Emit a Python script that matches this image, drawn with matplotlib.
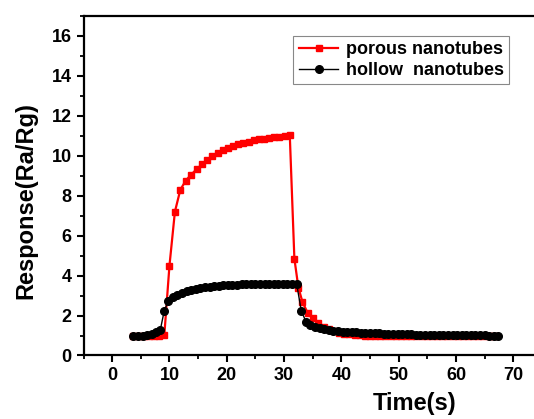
import matplotlib
matplotlib.use('Agg')
import matplotlib.pyplot as plt
from matplotlib.ticker import MultipleLocator

plt.rcParams['font.family'] = ['Liberation Sans', 'DejaVu Sans']
plt.rcParams['font.weight'] = 'bold'

# porous nanotubes
t_porous = [3.7, 4.6, 5.5, 6.4, 7.3, 8.2, 9.1,
            10.0, 10.95, 11.9, 12.85, 13.8, 14.75, 15.7, 16.6, 17.5, 18.4,
            19.3, 20.2, 21.1, 22.0, 22.9, 23.8, 24.7, 25.6, 26.5, 27.4,
            28.3, 29.2, 30.1, 31.0,
            31.8, 32.5, 33.2, 34.1, 35.0, 36.0, 36.9, 37.8, 38.7, 39.6,
            40.5, 41.4, 42.3, 43.2, 44.1, 45.0, 45.9, 46.8, 47.7, 48.6,
            49.5, 50.4, 51.3, 52.2, 53.1, 54.0, 54.9, 55.8, 56.7, 57.6,
            58.5, 59.4, 60.3, 61.2, 62.1, 63.0, 63.9, 64.8, 65.7, 66.6]
r_porous = [1.0, 1.0, 1.0, 0.98, 0.98, 1.0, 1.02,
            4.5, 7.2, 8.3, 8.76, 9.06, 9.33, 9.57, 9.78, 9.97, 10.13,
            10.27, 10.38, 10.48, 10.57, 10.64, 10.71, 10.77, 10.82, 10.86, 10.9,
            10.93, 10.96, 10.99, 11.02,
            4.85, 3.4, 2.69, 2.14, 1.86, 1.64, 1.45, 1.32, 1.22, 1.15,
            1.1, 1.06, 1.03, 1.01, 1.0, 0.99, 0.98, 0.98, 0.98, 0.97,
            0.97, 0.97, 0.97, 0.97, 0.97, 0.97, 0.97, 0.97, 0.97, 0.97,
            0.97, 0.97, 0.97, 0.97, 0.97, 0.97, 0.97, 0.97, 0.97, 0.97]

# hollow nanotubes
t_hollow = [3.7, 4.5, 5.3, 6.1, 6.9, 7.7, 8.4, 9.1, 9.8, 10.6,
            11.4, 12.2, 13.0, 13.8, 14.6, 15.4, 16.2, 17.0, 17.8, 18.6,
            19.4, 20.2, 21.0, 21.8, 22.6, 23.4, 24.2, 25.0, 25.8, 26.6,
            27.4, 28.2, 29.0, 29.8, 30.6, 31.4, 32.2, 33.0, 33.8, 34.6,
            35.4, 36.2, 37.0, 37.8, 38.6, 39.4, 40.2, 41.0, 41.8, 42.6,
            43.4, 44.2, 45.0, 45.8, 46.6, 47.4, 48.2, 49.0, 49.8, 50.6,
            51.4, 52.2, 53.0, 53.8, 54.6, 55.4, 56.2, 57.0, 57.8, 58.6,
            59.4, 60.2, 61.0, 61.8, 62.6, 63.4, 64.2, 65.0, 65.8, 66.6, 67.4]
r_hollow = [1.0, 1.0, 1.0, 1.02, 1.1, 1.18, 1.28, 2.25, 2.72, 2.93,
            3.05, 3.14, 3.21, 3.28, 3.33, 3.37, 3.41, 3.44, 3.47, 3.49,
            3.51, 3.53, 3.54, 3.55, 3.56, 3.57, 3.58, 3.58, 3.59, 3.59,
            3.59, 3.6, 3.6, 3.6, 3.59, 3.59, 3.58, 2.25, 1.7, 1.52,
            1.42, 1.36, 1.31, 1.27, 1.24, 1.22, 1.2, 1.18, 1.17, 1.16,
            1.15, 1.14, 1.13, 1.12, 1.11, 1.1, 1.09, 1.08, 1.07, 1.07,
            1.06, 1.06, 1.05, 1.05, 1.04, 1.04, 1.04, 1.03, 1.03, 1.03,
            1.02, 1.02, 1.02, 1.02, 1.01, 1.01, 1.01, 1.01, 1.0, 1.0, 1.0]

fig = plt.figure(figsize=(5.34, 4.19), dpi=100)
ax = fig.add_axes([0.1564, 0.1516, 0.8584, 0.8103])

ax.plot(t_porous, r_porous, color='red', marker='s', markersize=4.5,
        linewidth=1.6, label='porous nanotubes', zorder=3)
ax.plot(t_hollow, r_hollow, color='black', marker='o', markersize=5.5,
        linewidth=1.0, label='hollow  nanotubes', zorder=4)

ax.set_xlim(-5, 75)
ax.set_ylim(0, 17)
ax.xaxis.set_major_locator(MultipleLocator(10))
ax.xaxis.set_minor_locator(MultipleLocator(5))
ax.yaxis.set_minor_locator(MultipleLocator(1))
ax.set_yticks(range(0, 17, 2))
ax.tick_params(which='major', direction='out', length=5, width=1.5, labelsize=13)
ax.tick_params(which='minor', direction='out', length=3, width=1.3)
for lbl in ax.get_xticklabels() + ax.get_yticklabels():
    lbl.set_fontweight('bold')
for s in ax.spines.values():
    s.set_linewidth(1.6)

ax.set_xlabel('Time(s)', fontsize=17, fontweight='bold')
ax.set_ylabel('Response(Ra/Rg)', fontsize=17, fontweight='bold')
ax.xaxis.set_label_coords(0.723, -0.1075)
ax.yaxis.set_label_coords(-0.101, 0.455)

leg = ax.legend(loc='upper right', bbox_to_anchor=(509 / 534, 1 - 36 / 419),
                bbox_transform=fig.transFigure, borderaxespad=0, fontsize=13,
                handlelength=2.2, labelspacing=0.2, borderpad=0.3,
                handletextpad=0.4, fancybox=False, framealpha=1)
leg.get_frame().set_edgecolor('#888888')
leg.get_frame().set_linewidth(0.8)
for txt in leg.get_texts():
    txt.set_fontweight('bold')

fig.savefig('out.png', dpi=100)
